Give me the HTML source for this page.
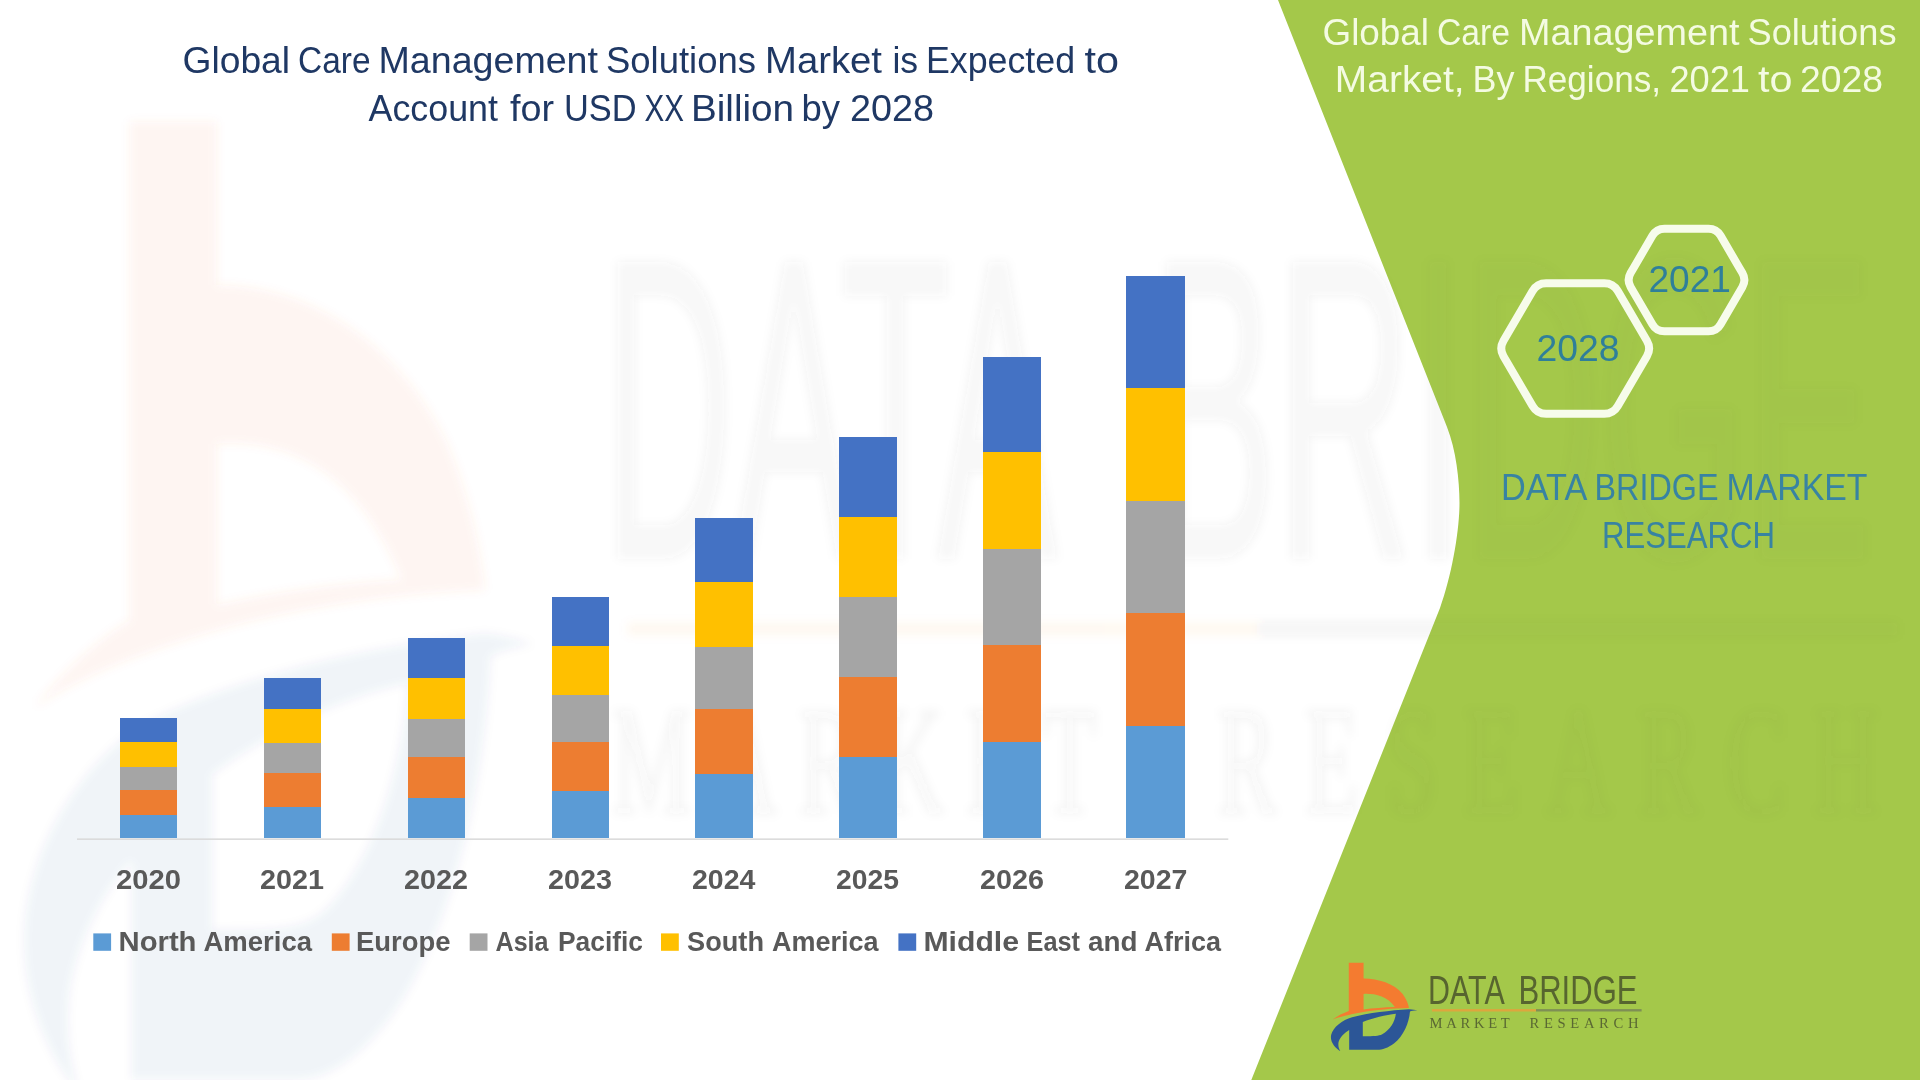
<!DOCTYPE html>
<html lang="en">
<head>
<meta charset="utf-8">
<title>Global Care Management Solutions Market</title>
<style>
html,body{margin:0;padding:0;background:#fff;}
body{width:1920px;height:1080px;overflow:hidden;}
svg{display:block;}
text{font-family:"Liberation Sans",sans-serif;white-space:pre;}
</style>
</head>
<body>
<svg width="1920" height="1080" viewBox="0 0 1920 1080">
<rect width="1920" height="1080" fill="#ffffff"/>
<defs><filter id="wmblur" x="0" y="0" width="1920" height="1080" filterUnits="userSpaceOnUse"><feGaussianBlur stdDeviation="5"/></filter>
<mask id="wmmask" maskUnits="userSpaceOnUse" x="0" y="0" width="1920" height="1080"><rect width="1920" height="1080" fill="#ffffff"/><path d="M1278,0 L1447,427 C1456,450 1459.5,480 1459.5,503 C1459.5,530 1452,575 1440,608 L1251.3,1080 L1920,1080 L1920,0 Z" fill="#858585"/></mask></defs>
<!-- green panel -->
<path d="M1278,0 L1447,427 C1456,450 1459.5,480 1459.5,503 C1459.5,530 1452,575 1440,608 L1251.3,1080 L1920,1080 L1920,0 Z" fill="#A4C84A"/>
<!-- faint stretched watermark -->
<g mask="url(#wmmask)"><g filter="url(#wmblur)">
<g opacity="0.07" transform="matrix(5.9,0,0,10.35,-7828.3,-9843.0)">
<g transform="translate(1320,955) scale(0.09727)" fill-rule="evenodd"><path d="M296,80 L448,80 L448,242 C600,242 760,294 850,400 C890,455 910,510 915,545 C750,548 560,565 420,590 C300,610 200,635 130,662 C180,625 240,595 296,575 Z M448,400 C560,395 690,420 770,535 C660,538 540,548 448,560 Z" fill="#F2703A"/></g>
</g>
<g opacity="0.058" transform="matrix(5.9,0,0,11.0,-7828.3,-10468.8)">
<g transform="translate(1320,955) scale(0.09727)" fill-rule="evenodd"><path d="M1000,568 C960,572 940,575 925,580 C915,700 860,830 760,910 C700,955 640,975 590,975 L300,975 L300,770 C250,800 200,850 190,900 C185,940 195,965 210,990 C150,950 100,890 115,820 C135,740 230,670 330,640 C500,595 720,570 915,558 C950,560 980,565 1000,568 Z M440,690 C540,650 680,615 780,605 C770,690 720,770 640,815 C600,835 560,835 440,835 Z" fill="#33508A"/></g>
</g>
<g opacity="0.042" transform="matrix(6.057,0,0,10.6,-8046.5,-10087.6)" stroke="#404040" stroke-width="0.2">
<text y="1004.3" font-size="40.5" fill="#404040"><tspan x="1428.05" textLength="74.98" lengthAdjust="spacingAndGlyphs">DATA</tspan> <tspan x="1518.50" textLength="119.02" lengthAdjust="spacingAndGlyphs">BRIDGE</tspan></text>
<text y="1028.4" font-size="14.6" style="font-family:'Liberation Serif',serif" fill="#404040"><tspan x="1429.53" textLength="79.96" lengthAdjust="spacing">MARKET</tspan> <tspan x="1529.49" textLength="109.00" lengthAdjust="spacing">RESEARCH</tspan></text>
</g>
<g opacity="0.06" transform="matrix(6.057,0,0,10.6,-8046.5,-10087.6)">
<rect x="1432" y="1010.4" width="104" height="1.2" fill="#F0902A"/><rect x="1536" y="1010.4" width="105.6" height="1.2" fill="#505050"/>
</g>
</g></g>
<!-- chart -->
<g shape-rendering="crispEdges">
<rect x="120.1" y="718.4" width="56.9" height="23.9" fill="#4472C4"/>
<rect x="120.1" y="742.3" width="56.9" height="24.7" fill="#FFC000"/>
<rect x="120.1" y="767.0" width="56.9" height="23.0" fill="#A5A5A5"/>
<rect x="120.1" y="790.0" width="56.9" height="24.6" fill="#ED7D31"/>
<rect x="120.1" y="814.6" width="56.9" height="23.8" fill="#5B9BD5"/>
<rect x="264.1" y="677.9" width="56.7" height="31.4" fill="#4472C4"/>
<rect x="264.1" y="709.3" width="56.7" height="33.7" fill="#FFC000"/>
<rect x="264.1" y="743.0" width="56.7" height="30.3" fill="#A5A5A5"/>
<rect x="264.1" y="773.3" width="56.7" height="33.7" fill="#ED7D31"/>
<rect x="264.1" y="807.0" width="56.7" height="31.4" fill="#5B9BD5"/>
<rect x="408.1" y="637.6" width="56.7" height="40.1" fill="#4472C4"/>
<rect x="408.1" y="677.7" width="56.7" height="41.0" fill="#FFC000"/>
<rect x="408.1" y="718.7" width="56.7" height="38.0" fill="#A5A5A5"/>
<rect x="408.1" y="756.7" width="56.7" height="41.0" fill="#ED7D31"/>
<rect x="408.1" y="797.7" width="56.7" height="40.7" fill="#5B9BD5"/>
<rect x="552.0" y="597.1" width="56.9" height="48.7" fill="#4472C4"/>
<rect x="552.0" y="645.8" width="56.9" height="49.2" fill="#FFC000"/>
<rect x="552.0" y="695.0" width="56.9" height="47.3" fill="#A5A5A5"/>
<rect x="552.0" y="742.3" width="56.9" height="48.7" fill="#ED7D31"/>
<rect x="552.0" y="791.0" width="56.9" height="47.4" fill="#5B9BD5"/>
<rect x="694.8" y="517.7" width="58.0" height="64.0" fill="#4472C4"/>
<rect x="694.8" y="581.7" width="58.0" height="65.0" fill="#FFC000"/>
<rect x="694.8" y="646.7" width="58.0" height="62.3" fill="#A5A5A5"/>
<rect x="694.8" y="709.0" width="58.0" height="65.0" fill="#ED7D31"/>
<rect x="694.8" y="774.0" width="58.0" height="64.4" fill="#5B9BD5"/>
<rect x="838.9" y="436.8" width="57.8" height="80.4" fill="#4472C4"/>
<rect x="838.9" y="517.2" width="57.8" height="80.0" fill="#FFC000"/>
<rect x="838.9" y="597.2" width="57.8" height="79.8" fill="#A5A5A5"/>
<rect x="838.9" y="677.0" width="57.8" height="80.2" fill="#ED7D31"/>
<rect x="838.9" y="757.2" width="57.8" height="81.2" fill="#5B9BD5"/>
<rect x="982.9" y="357.1" width="57.9" height="95.3" fill="#4472C4"/>
<rect x="982.9" y="452.4" width="57.9" height="96.6" fill="#FFC000"/>
<rect x="982.9" y="549.0" width="57.9" height="96.4" fill="#A5A5A5"/>
<rect x="982.9" y="645.4" width="57.9" height="96.6" fill="#ED7D31"/>
<rect x="982.9" y="742.0" width="57.9" height="96.4" fill="#5B9BD5"/>
<rect x="1126.2" y="276.0" width="58.8" height="112.3" fill="#4472C4"/>
<rect x="1126.2" y="388.3" width="58.8" height="112.7" fill="#FFC000"/>
<rect x="1126.2" y="501.0" width="58.8" height="111.8" fill="#A5A5A5"/>
<rect x="1126.2" y="612.8" width="58.8" height="112.8" fill="#ED7D31"/>
<rect x="1126.2" y="725.6" width="58.8" height="112.8" fill="#5B9BD5"/>
</g>
<rect x="77" y="838.4" width="1151.3" height="1.5" fill="#D9D9D9"/>
<rect x="93.3" y="933.4" width="17.8" height="17.4" fill="#5B9BD5"/>
<rect x="331.8" y="933.4" width="17.8" height="17.4" fill="#ED7D31"/>
<rect x="469.7" y="933.4" width="17.8" height="17.4" fill="#A5A5A5"/>
<rect x="661.0" y="933.4" width="17.8" height="17.4" fill="#FFC000"/>
<rect x="898.4" y="933.4" width="17.8" height="17.4" fill="#4472C4"/>
<!-- hexagons -->
<g fill="none" stroke="#F7FCEB" stroke-width="8" stroke-linejoin="round">
<path d="M1503.5,356.3 Q1499.0,348.5 1503.5,340.7 L1532.6,291.0 Q1537.1,283.2 1546.1,283.2 L1604.3,283.2 Q1613.3,283.2 1617.8,291.0 L1646.9,340.7 Q1651.4,348.5 1646.9,356.3 L1617.8,406.0 Q1613.3,413.8 1604.3,413.8 L1546.1,413.8 Q1537.1,413.8 1532.6,406.0 Z"/>
<path d="M1630.6,286.9 Q1626.6,280.0 1630.6,273.1 L1652.5,235.6 Q1656.5,228.7 1664.5,228.7 L1708.5,228.7 Q1716.5,228.7 1720.5,235.6 L1742.4,273.1 Q1746.4,280.0 1742.4,286.9 L1720.5,324.4 Q1716.5,331.3 1708.5,331.3 L1664.5,331.3 Q1656.5,331.3 1652.5,324.4 Z"/>
</g>
<!-- all text -->
<text y="73.4" font-size="36.0" fill="#1F3864"><tspan x="182.50" textLength="107.54" lengthAdjust="spacingAndGlyphs">Global</tspan> <tspan x="298.01" textLength="72.50" lengthAdjust="spacingAndGlyphs">Care</tspan> <tspan x="378.49" textLength="219.51" lengthAdjust="spacingAndGlyphs">Management</tspan> <tspan x="605.98" textLength="150.03" lengthAdjust="spacingAndGlyphs">Solutions</tspan> <tspan x="764.99" textLength="117.03" lengthAdjust="spacingAndGlyphs">Market</tspan> <tspan x="892.42" textLength="25.66" lengthAdjust="spacingAndGlyphs">is</tspan> <tspan x="925.94" textLength="149.10" lengthAdjust="spacingAndGlyphs">Expected</tspan> <tspan x="1084.51" textLength="34.45" lengthAdjust="spacingAndGlyphs">to</tspan></text>
<text y="120.6" font-size="36.0" fill="#1F3864"><tspan x="368.51" textLength="129.49" lengthAdjust="spacingAndGlyphs">Account</tspan> <tspan x="510.01" textLength="43.98" lengthAdjust="spacingAndGlyphs">for</tspan> <tspan x="563.95" textLength="72.58" lengthAdjust="spacingAndGlyphs">USD</tspan> <tspan x="644.53" textLength="39.44" lengthAdjust="spacingAndGlyphs">XX</tspan> <tspan x="690.91" textLength="103.16" lengthAdjust="spacingAndGlyphs">Billion</tspan> <tspan x="801.49" textLength="38.53" lengthAdjust="spacingAndGlyphs">by</tspan> <tspan x="849.98" textLength="84.04" lengthAdjust="spacingAndGlyphs">2028</tspan></text>
<text y="44.6" font-size="36.2" fill="#F4FBE2"><tspan x="1322.48" textLength="106.55" lengthAdjust="spacingAndGlyphs">Global</tspan> <tspan x="1437.00" textLength="73.00" lengthAdjust="spacingAndGlyphs">Care</tspan> <tspan x="1519.00" textLength="220.50" lengthAdjust="spacingAndGlyphs">Management</tspan> <tspan x="1747.49" textLength="149.02" lengthAdjust="spacingAndGlyphs">Solutions</tspan></text>
<text y="91.8" font-size="36.2" fill="#F4FBE2"><tspan x="1334.89" textLength="129.73" lengthAdjust="spacingAndGlyphs">Market,</tspan> <tspan x="1472.52" textLength="41.99" lengthAdjust="spacingAndGlyphs">By</tspan> <tspan x="1522.45" textLength="138.58" lengthAdjust="spacingAndGlyphs">Regions,</tspan> <tspan x="1669.49" textLength="80.52" lengthAdjust="spacingAndGlyphs">2021</tspan> <tspan x="1758.00" textLength="34.44" lengthAdjust="spacingAndGlyphs">to</tspan> <tspan x="1799.99" textLength="83.01" lengthAdjust="spacingAndGlyphs">2028</tspan></text>
<text y="361.1" font-size="37.0" fill="#2F7F9A"><tspan x="1536.50" textLength="83.00" lengthAdjust="spacingAndGlyphs">2028</tspan></text>
<text y="291.9" font-size="37.0" fill="#2F7F9A"><tspan x="1648.50" textLength="82.50" lengthAdjust="spacingAndGlyphs">2021</tspan></text>
<text y="500.3" font-size="36.5" fill="#3883A2"><tspan x="1501.03" textLength="84.50" lengthAdjust="spacingAndGlyphs">DATA</tspan> <tspan x="1594.48" textLength="124.01" lengthAdjust="spacingAndGlyphs">BRIDGE</tspan> <tspan x="1726.48" textLength="141.01" lengthAdjust="spacingAndGlyphs">MARKET</tspan></text>
<text y="548.4" font-size="36.5" fill="#3883A2"><tspan x="1601.95" textLength="173.08" lengthAdjust="spacingAndGlyphs">RESEARCH</tspan></text>
<text y="950.8" font-size="28.2" font-weight="bold" fill="#595959"><tspan x="118.50" textLength="78.00" lengthAdjust="spacingAndGlyphs">North</tspan> <tspan x="203.53" textLength="108.48" lengthAdjust="spacingAndGlyphs">America</tspan></text>
<text y="950.8" font-size="28.2" font-weight="bold" fill="#595959"><tspan x="356.01" textLength="94.49" lengthAdjust="spacingAndGlyphs">Europe</tspan></text>
<text y="950.8" font-size="28.2" font-weight="bold" fill="#595959"><tspan x="495.52" textLength="53.01" lengthAdjust="spacingAndGlyphs">Asia</tspan> <tspan x="558.01" textLength="84.96" lengthAdjust="spacingAndGlyphs">Pacific</tspan></text>
<text y="950.8" font-size="28.2" font-weight="bold" fill="#595959"><tspan x="687.01" textLength="76.98" lengthAdjust="spacingAndGlyphs">South</tspan> <tspan x="772.02" textLength="106.48" lengthAdjust="spacingAndGlyphs">America</tspan></text>
<text y="950.8" font-size="28.2" font-weight="bold" fill="#595959"><tspan x="923.48" textLength="95.53" lengthAdjust="spacingAndGlyphs">Middle</tspan> <tspan x="1026.54" textLength="53.47" lengthAdjust="spacingAndGlyphs">East</tspan> <tspan x="1088.01" textLength="49.49" lengthAdjust="spacingAndGlyphs">and</tspan> <tspan x="1144.52" textLength="76.48" lengthAdjust="spacingAndGlyphs">Africa</tspan></text>
<text y="889.3" font-size="27.8" font-weight="bold" fill="#595959"><tspan x="116.00" textLength="65.00" lengthAdjust="spacingAndGlyphs">2020</tspan></text>
<text y="889.3" font-size="27.8" font-weight="bold" fill="#595959"><tspan x="260.01" textLength="63.98" lengthAdjust="spacingAndGlyphs">2021</tspan></text>
<text y="889.3" font-size="27.8" font-weight="bold" fill="#595959"><tspan x="404.01" textLength="63.97" lengthAdjust="spacingAndGlyphs">2022</tspan></text>
<text y="889.3" font-size="27.8" font-weight="bold" fill="#595959"><tspan x="548.01" textLength="63.96" lengthAdjust="spacingAndGlyphs">2023</tspan></text>
<text y="889.3" font-size="27.8" font-weight="bold" fill="#595959"><tspan x="692.01" textLength="63.48" lengthAdjust="spacingAndGlyphs">2024</tspan></text>
<text y="889.3" font-size="27.8" font-weight="bold" fill="#595959"><tspan x="836.02" textLength="62.95" lengthAdjust="spacingAndGlyphs">2025</tspan></text>
<text y="889.3" font-size="27.8" font-weight="bold" fill="#595959"><tspan x="980.01" textLength="63.96" lengthAdjust="spacingAndGlyphs">2026</tspan></text>
<text y="889.3" font-size="27.8" font-weight="bold" fill="#595959"><tspan x="1124.00" textLength="63.47" lengthAdjust="spacingAndGlyphs">2027</tspan></text>
<!-- logo -->
<g transform="translate(1320,955) scale(0.09727)" fill-rule="evenodd">
<path d="M296,80 L448,80 L448,242 C600,242 760,294 850,400 C890,455 910,510 915,545 C750,548 560,565 420,590 C300,610 200,635 130,662 C180,625 240,595 296,575 Z M448,400 C560,395 690,420 770,535 C660,538 540,548 448,560 Z" fill="#F47B30"/>
<path d="M1000,568 C960,572 940,575 925,580 C915,700 860,830 760,910 C700,955 640,975 590,975 L300,975 L300,770 C250,800 200,850 190,900 C185,940 195,965 210,990 C150,950 100,890 115,820 C135,740 230,670 330,640 C500,595 720,570 915,558 C950,560 980,565 1000,568 Z M440,690 C540,650 680,615 780,605 C770,690 720,770 640,815 C600,835 560,835 440,835 Z" fill="#2C5697"/>
</g>
<text y="1004.3" font-size="40.5" fill="#57652F"><tspan x="1428.05" textLength="74.98" lengthAdjust="spacingAndGlyphs">DATA</tspan> <tspan x="1518.50" textLength="119.02" lengthAdjust="spacingAndGlyphs">BRIDGE</tspan></text>
<text y="1028.4" font-size="14.6" style="font-family:'Liberation Serif',serif" fill="#5A6833"><tspan x="1429.53" textLength="79.96" lengthAdjust="spacing">MARKET</tspan> <tspan x="1529.49" textLength="109.00" lengthAdjust="spacing">RESEARCH</tspan></text>
<rect x="1432" y="1009.1" width="104" height="2.4" fill="#DDA63E"/><rect x="1536" y="1009.1" width="105.6" height="2.4" fill="#7F8F55"/>
</svg>
</body>
</html>
